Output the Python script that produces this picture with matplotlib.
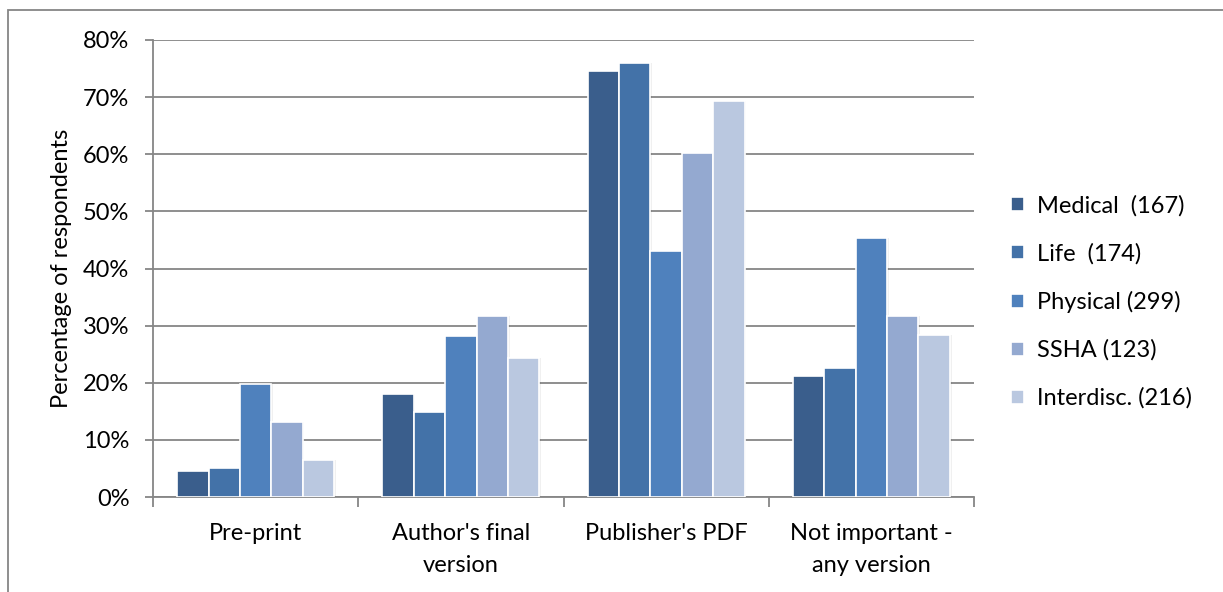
import matplotlib
matplotlib.use("Agg")
import matplotlib.pyplot as plt
from matplotlib.patches import Rectangle
from matplotlib.ticker import FuncFormatter, MultipleLocator
import numpy as np

categories = ["Pre-print", "Author's final\nversion", "Publisher's PDF", "Not important -\nany version"]
series_names = ["Medical  (167)", "Life  (174)", "Physical (299)", "SSHA (123)", "Interdisc. (216)"]
medical = [4.6, 18.0, 74.6, 21.2]
life = [5.0, 14.9, 75.9, 22.6]
physical = [19.8, 28.2, 43.0, 45.3]
ssha = [13.2, 31.6, 60.3, 31.6]
interdisc = [6.5, 24.3, 69.4, 28.4]
series_values = [medical, life, physical, ssha, interdisc]
colors = ["#3A5E8C", "#4372A8", "#4F81BD", "#94A9D0", "#BAC8E0"]

plt.rcParams['font.family'] = ['Lato', 'DejaVu Sans']
FS = 17

W, H = 1223, 592
fig = plt.figure(figsize=(W / 100, H / 100), dpi=100)
ax = fig.add_axes([153 / W, 1 - 497 / H, (974 - 153) / W, (497 - 40) / H])

x = np.arange(len(categories))
bw = 0.153
n = len(series_values)
for i, (vals, name, c) in enumerate(zip(series_values, series_names, colors)):
    offs = (i - (n - 1) / 2) * bw
    # faint shadow
    ax.bar(x + offs + 0.008, vals, bw, color="#000000", alpha=0.06, zorder=2, linewidth=0)
    ax.bar(x + offs, vals, bw, color=c, edgecolor="white", linewidth=1.2, label=name, zorder=3)

ax.set_xlim(-0.5, len(categories) - 0.5)
ax.set_ylim(0, 80)
ax.yaxis.set_major_locator(MultipleLocator(10))
ax.yaxis.set_major_formatter(FuncFormatter(lambda v, p: f"{int(round(v))}%"))
ax.grid(axis="y", color="#868686", linewidth=1.3, zorder=0)
ax.set_axisbelow(True)

for s in ["top", "right"]:
    ax.spines[s].set_visible(False)
for s in ["left", "bottom"]:
    ax.spines[s].set_color("#868686")
    ax.spines[s].set_linewidth(1.3)

ax.set_xticks(x)
ax.set_xticklabels(categories, fontsize=FS, linespacing=1.6)
ax.tick_params(axis="x", length=0, pad=19)
ax.set_xticks(np.arange(-0.5, len(categories), 1), minor=True)
ax.tick_params(axis="x", which="minor", length=7, color="#868686", width=1.3, direction="out")
ax.tick_params(axis="y", length=6, color="#868686", width=1.3, labelsize=FS, pad=11)
ax.set_ylabel("Percentage of respondents", fontsize=FS, labelpad=8)

leg = fig.legend(loc="center left", bbox_to_anchor=(990 / W, 1 - 302 / H), frameon=False,
                 fontsize=FS, handlelength=0.55, handleheight=0.55, handletextpad=0.55,
                 labelspacing=1.12)

# outer chart border
fig.patches.append(Rectangle((8 / W, -0.1), 1.2, 1 - 10 / H + 0.1, transform=fig.transFigure,
                             fill=False, edgecolor="#868686", linewidth=1.3))

fig.savefig("out.png", dpi=100)
